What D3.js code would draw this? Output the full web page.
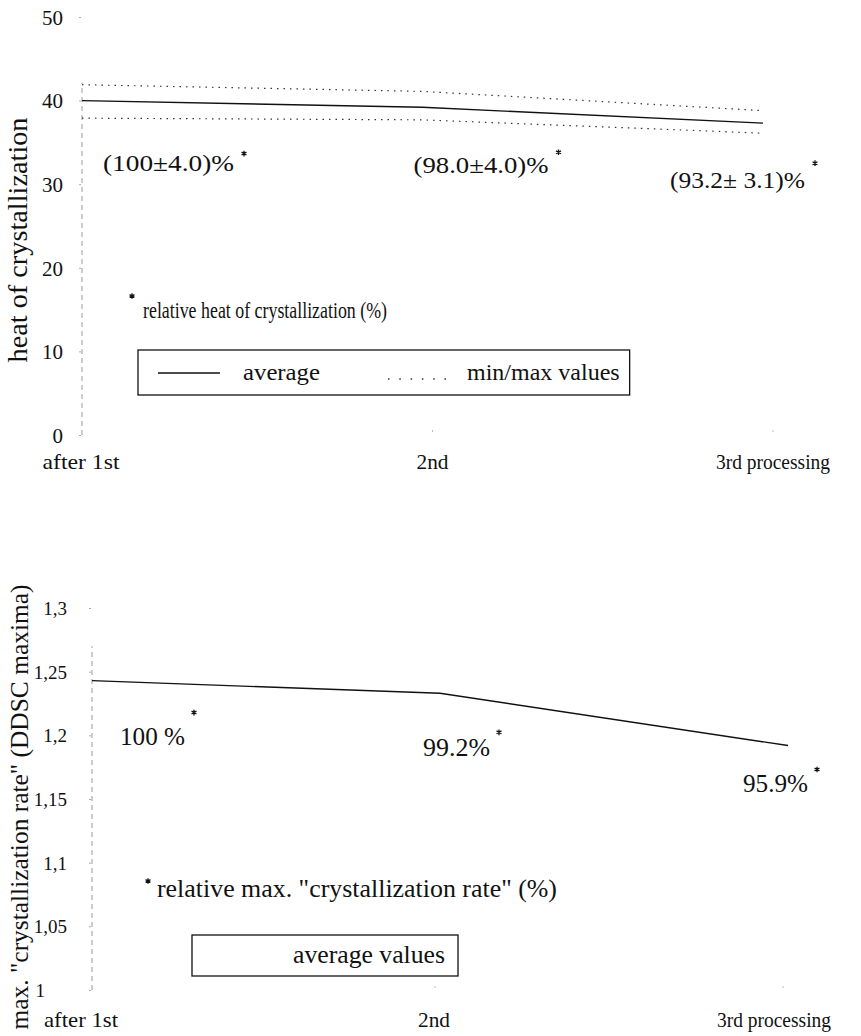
<!DOCTYPE html>
<html>
<head>
<meta charset="utf-8">
<script src="https://cdn.jsdelivr.net/npm/d3@7"></script>
<style>
  html, body { margin: 0; padding: 0; background: #fff; }
  svg { display: block; }
  text { font-family: "Liberation Serif", "Times New Roman", serif; fill: #111; }
</style>
</head>
<body>
<svg id="chart" width="861" height="1036"></svg>
<script>
// Processing steps on the x axis
const categories = ["after 1st", "2nd", "3rd processing"];

// Heat of crystallization: averages and min/max envelope
const heatAvg = [40.0, 39.2, 37.3];
const heatMax = [41.9, 41.1, 38.8];
const heatMin = [37.9, 37.7, 36.1];
const heatLabels = ["(100\u00B14.0)%", "(98.0\u00B14.0)%", "(93.2\u00B1 3.1)%"];
const heatTicks = [0, 10, 20, 30, 40, 50];

// Maximum crystallization rate (DDSC maxima)
const rateAvg = [1.243, 1.233, 1.192];
const rateLabels = ["100 %", "99.2%", "95.9%"];
const rateTicks = [1, 1.05, 1.1, 1.15, 1.2, 1.25, 1.3];

const svg = d3.select("#chart");
const idx = d3.range(categories.length);

// text helper: size sets glyph height, width (optional) fixes the run length
function label(g, x, y, str, size, width, anchor) {
  const t = g.append("text").attr("x", x).attr("y", y).attr("font-size", size).text(str);
  if (anchor) t.attr("text-anchor", anchor);
  if (width) t.attr("textLength", width).attr("lengthAdjust", "spacingAndGlyphs");
  return t;
}
// small superscript asterisk marking relative values
const starPath = d3.symbol(d3.symbolAsterisk, 22)();
function star(g, x, y) {
  return g.append("path").attr("d", starPath)
    .attr("transform", `translate(${x},${y})`)
    .attr("fill", "none").attr("stroke", "#111").attr("stroke-width", 1.3);
}
function styleTicks(g, size) {
  g.select(".domain").remove();
  g.selectAll(".tick line").attr("stroke", "#aaa");
  g.selectAll(".tick text").attr("font-size", size).attr("dy", "0.35em")
    .style("font-family", "Liberation Serif").attr("fill", "#111");
}

// ---------- upper panel ----------
const xTop = d3.scaleLinear().domain([0, categories.length - 1]).range([82, 763]);
const yTop = d3.scaleLinear().domain([0, 50]).range([435, 17]);
const upper = svg.append("g");

// faint dashed y axis
upper.append("line")
  .attr("x1", xTop(0)).attr("x2", xTop(0))
  .attr("y1", yTop(0)).attr("y2", yTop(heatMax[0]) - 2)
  .attr("stroke", "#9a9a9a").attr("stroke-width", 1)
  .attr("stroke-dasharray", "5,4");

upper.append("g").attr("transform", `translate(${xTop(0) - 1},0)`)
  .call(d3.axisLeft(yTop).tickValues(heatTicks).tickSize(2).tickPadding(16)
    .tickFormat(d3.format("d")))
  .call(g => styleTicks(g, 21));

// faint x tick marks
upper.selectAll(".xtick").data(idx.slice(1)).join("line")
  .attr("x1", i => xTop(i) + 10).attr("x2", i => xTop(i) + 10)
  .attr("y1", yTop(0) - 5).attr("y2", yTop(0) - 3)
  .attr("stroke", "#bbb");

const lineTop = (vals) => d3.line().x((d, i) => xTop(i)).y(d => yTop(d))(vals);
[heatMax, heatMin].forEach(vals => {
  upper.append("path").attr("d", lineTop(vals)).attr("fill", "none")
    .attr("stroke", "#333").attr("stroke-width", 1.2).attr("stroke-dasharray", "1.5,5");
});
upper.append("path").attr("d", lineTop(heatAvg)).attr("fill", "none")
  .attr("stroke", "#111").attr("stroke-width", 1.4);

// relative values under each point
const heatLabelPos = [
  { dx: 21, dy: 70, w: 131, sy: -17 },
  { dx: -9, dy: 66, w: 135, sy: -21 },
  { dx: -93, dy: 65, w: 135, sy: -25 }
];
heatLabels.forEach((t, i) => {
  const p = heatLabelPos[i];
  const x = xTop(i) + p.dx, y = yTop(heatAvg[i]) + p.dy;
  label(upper, x, y, t, 24, p.w);
  star(upper, x + p.w + 10, y + p.sy);
});

// y axis title
label(upper.append("g").attr("transform", "translate(27,240) rotate(-90)"),
  0, 0, "heat of crystallization", 27, 245, "middle");

// x labels
label(upper, xTop(0) - 1, 469, categories[0], 22, 77, "middle");
label(upper, xTop(1) + 10, 469, categories[1], 22, 32, "middle");
label(upper, 830, 469, categories[2], 22, 114, "end");

// footnote
star(upper, 132, 296);
label(upper, 143, 318, "relative heat of crystallization (%)", 23, 244);

// legend
const legTop = upper.append("g");
label(legTop, 243, 380, "average", 24, 77);
const mm = label(legTop, 467, 380, "min/max values", 24);
const mmEnd = 467 + mm.node().getComputedTextLength();
legTop.append("rect").attr("x", 138).attr("y", 350).attr("width", mmEnd + 10 - 138).attr("height", 45)
  .attr("fill", "none").attr("stroke", "#111").attr("stroke-width", 1.3);
legTop.append("line").attr("x1", 158).attr("x2", 220).attr("y1", 373).attr("y2", 373)
  .attr("stroke", "#111").attr("stroke-width", 1.4);
legTop.append("line").attr("x1", 388).attr("x2", 446).attr("y1", 379).attr("y2", 379)
  .attr("stroke", "#333").attr("stroke-width", 1.3).attr("stroke-dasharray", "1.5,9.8");

// ---------- lower panel ----------
const xBot = d3.scaleLinear().domain([0, categories.length - 1]).range([92, 788]);
const yBot = d3.scaleLinear().domain([1, 1.3]).range([990, 608]);
const lower = svg.append("g");

lower.append("line")
  .attr("x1", xBot(0)).attr("x2", xBot(0))
  .attr("y1", yBot(1)).attr("y2", yBot(1.27))
  .attr("stroke", "#9a9a9a").attr("stroke-width", 1)
  .attr("stroke-dasharray", "5,4");

const fmtComma = d => String(+d.toFixed(2)).replace(".", ",");
lower.append("g").attr("transform", `translate(${xBot(0) - 1},0)`)
  .call(d3.axisLeft(yBot).tickValues(rateTicks).tickSize(2).tickPadding(22)
    .tickFormat(fmtComma))
  .call(g => styleTicks(g, 19))
  .call(g => g.selectAll(".tick text").filter(d => d === 1).attr("dx", -22));

lower.selectAll(".xtick").data(idx.slice(1)).join("line")
  .attr("x1", i => xBot(i) - 5).attr("x2", i => xBot(i) - 5)
  .attr("y1", yBot(1) - 4).attr("y2", yBot(1) - 2)
  .attr("stroke", "#bbb");

lower.append("path")
  .attr("d", d3.line().x((d, i) => xBot(i)).y(d => yBot(d))(rateAvg))
  .attr("fill", "none").attr("stroke", "#111").attr("stroke-width", 1.4);

const rateLabelPos = [
  { dx: 28, dy: 64, w: 65, sy: -32 },
  { dx: -17, dy: 63, w: 67, sy: -24 },
  { dx: -45, dy: 46, w: 65, sy: -22 }
];
rateLabels.forEach((t, i) => {
  const p = rateLabelPos[i];
  const x = xBot(i) + p.dx, y = yBot(rateAvg[i]) + p.dy;
  label(lower, x, y, t, 25, p.w);
  star(lower, x + p.w + 9, y + p.sy);
});

label(lower.append("g").attr("transform", "translate(28,807) rotate(-90)"),
  0, 0, "max. \"crystallization rate\" (DDSC maxima)", 25, 445, "middle");

label(lower, xBot(0) - 11, 1027, categories[0], 22, 74, "middle");
label(lower, xBot(1) - 6, 1027, categories[1], 22, 32, "middle");
label(lower, 831, 1027, categories[2], 22, 114, "end");

star(lower, 148, 881);
label(lower, 157, 897, "relative max. \"crystallization rate\" (%)", 25, 400);

const legBot = lower.append("g");
legBot.append("rect").attr("x", 192).attr("y", 935).attr("width", 266).attr("height", 41)
  .attr("fill", "none").attr("stroke", "#111").attr("stroke-width", 1.3);
label(legBot, 293, 963, "average values", 25, 152);
</script>
</body>
</html>
